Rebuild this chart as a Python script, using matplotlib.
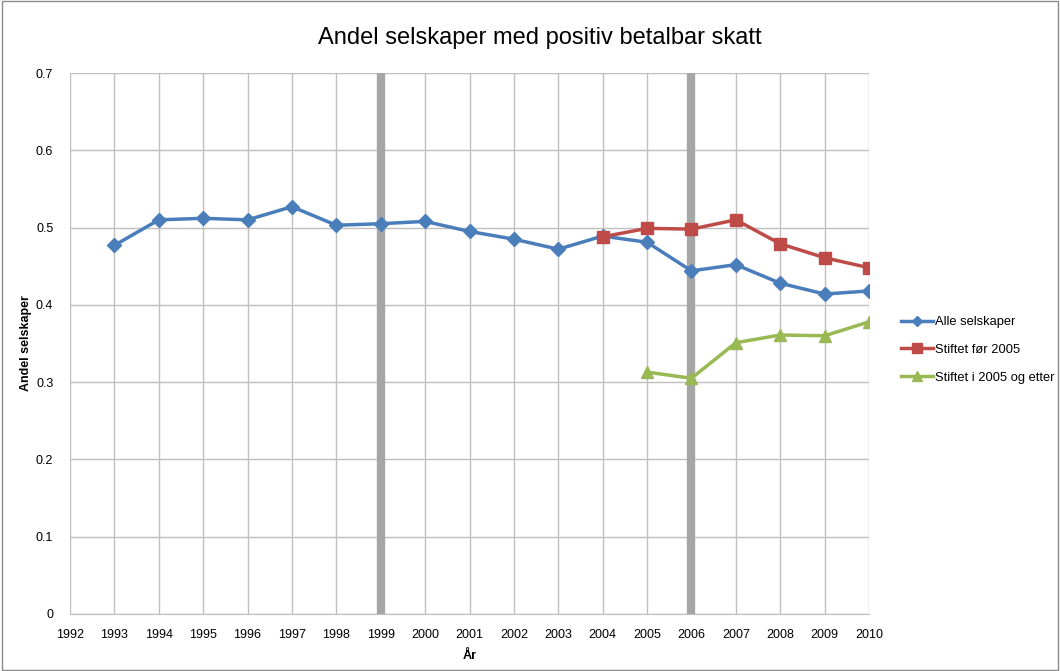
import numpy as np
import matplotlib
matplotlib.use('Agg')
import matplotlib.pyplot as plt

plt.rcParams['font.family'] = ['Liberation Sans', 'DejaVu Sans']

years_all = list(range(1993, 2011))
alle = [0.477, 0.510, 0.512, 0.510, 0.527, 0.503, 0.505, 0.508, 0.495, 0.485,
        0.472, 0.489, 0.481, 0.444, 0.452, 0.428, 0.414, 0.418]
years_for = list(range(2004, 2011))
for_2005 = [0.488, 0.499, 0.498, 0.510, 0.479, 0.461, 0.448]
years_etter = list(range(2005, 2011))
etter_2005 = [0.313, 0.305, 0.351, 0.361, 0.360, 0.378]
marker_years = [1999, 2006]

fig = plt.figure(figsize=(10.6, 6.71), dpi=100)
ax = fig.add_axes([70/1060, 1 - 614/671, (869-70)/1060, (614-73)/671])

# frame around the whole chart
fig.patches.append(plt.Rectangle((0.002, 0.002), 0.996, 0.996, transform=fig.transFigure,
                                 fill=False, edgecolor='#8c8c8c', lw=1))

for x in marker_years:
    ax.axvline(x, color='#a6a6a6', lw=6, zorder=1)

ax.plot(years_all, alle, color='#4a7ebb', lw=2.5, marker='D', ms=7, label='Alle selskaper', zorder=3)
ax.plot(years_for, for_2005, color='#be4b48', lw=2.5, marker='s', ms=9, label='Stiftet før 2005', zorder=3)
ax.plot(years_etter, etter_2005, color='#98b954', lw=2.5, marker='^', ms=9, label='Stiftet i 2005 og etter', zorder=3)

ax.set_xlim(1992, 2010)
ax.set_ylim(0, 0.7)
ax.set_xticks(range(1992, 2011))
ax.set_yticks(np.arange(0, 0.71, 0.1))
ax.set_yticklabels(['0', '0.1', '0.2', '0.3', '0.4', '0.5', '0.6', '0.7'])
ax.grid(True, color='#bfbfbf', lw=1, zorder=0)
ax.set_axisbelow(True)
for s in ['top', 'right', 'left']:
    ax.spines[s].set_visible(False)
ax.spines['bottom'].set_color('#bfbfbf')
ax.tick_params(length=0, labelsize=9, pad=11)
ax.tick_params(axis='y', pad=12)

ax.set_xlabel('År', fontsize=9, fontweight='bold', labelpad=6)
ax.set_ylabel('Andel selskaper', fontsize=9, fontweight='bold')
ax.yaxis.set_label_coords(-0.047, 0.5)
fig.text(540/1060, 1 - 38/671, 'Andel selskaper med positiv betalbar skatt',
         ha='center', va='center', fontsize=17)

ax.legend(loc='center left', bbox_to_anchor=(1.025, 0.488), frameon=False, fontsize=9.3,
          handlelength=2.5, labelspacing=1.2, handletextpad=0.15, markerscale=0.75)

fig.savefig('out.png', dpi=100)
